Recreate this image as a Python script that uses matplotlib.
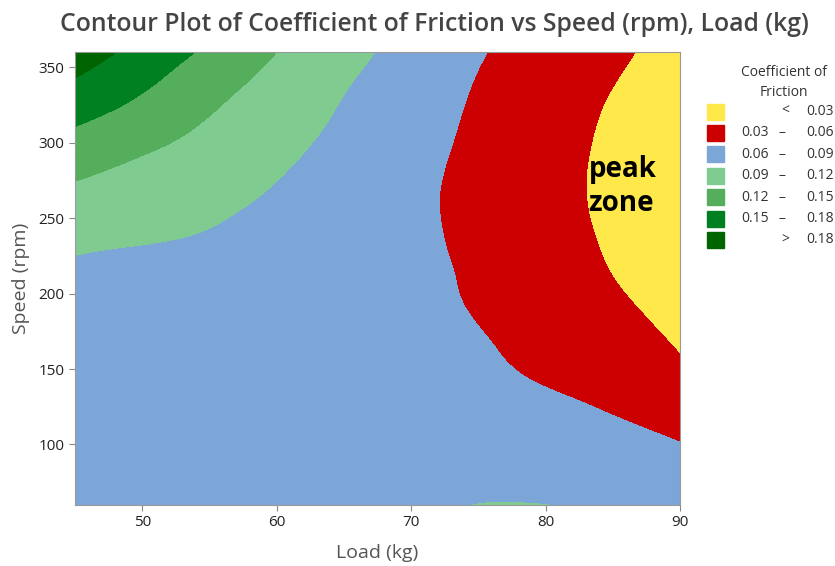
import numpy as np
import matplotlib
matplotlib.use("Agg")
from matplotlib import pyplot as plt
from matplotlib import tri
from matplotlib.patches import Rectangle

plt.rcParams["font.family"] = ["Open Sans", "DejaVu Sans"]

# grid: coefficient of friction at each load / speed
load = [45, 50, 55, 60, 65, 70, 75, 80, 85, 90]
speed = [60, 90, 120, 150, 180, 210, 240, 270, 300, 330, 360]
friction = [
    [0.082, 0.083, 0.084, 0.085, 0.086, 0.0874, 0.0902, 0.0901, 0.0855, 0.076],   # 60
    [0.081, 0.0805, 0.080, 0.0795, 0.079, 0.0785, 0.078, 0.076, 0.072, 0.065],    # 90
    [0.080, 0.0775, 0.075, 0.0725, 0.070, 0.0673, 0.0655, 0.066, 0.0597, 0.050],  # 120
    [0.080, 0.077, 0.074, 0.0709, 0.0679, 0.0652, 0.0632, 0.0558, 0.0454, 0.0335],  # 150
    [0.082, 0.078, 0.0746, 0.0708, 0.067, 0.0642, 0.0598, 0.0475, 0.0363, 0.0251],  # 180
    [0.085, 0.0805, 0.076, 0.0716, 0.067, 0.064, 0.0565, 0.0425, 0.0302, 0.018],    # 210
    [0.0975, 0.094, 0.0887, 0.0804, 0.0721, 0.0643, 0.054, 0.0397, 0.0266, 0.014],   # 240
    [0.117, 0.1077, 0.0984, 0.0888, 0.0771, 0.0654, 0.0525, 0.0386, 0.0247, 0.013],  # 270
    [0.1405, 0.126, 0.1119, 0.0977, 0.0834, 0.069, 0.0545, 0.040, 0.0258, 0.015],    # 300
    [0.168, 0.148, 0.126, 0.1075, 0.0896, 0.0734, 0.0574, 0.0431, 0.0289, 0.018],    # 330
    [0.196, 0.170, 0.1446, 0.120, 0.0989, 0.0798, 0.0621, 0.048, 0.0346, 0.021],     # 360
]

levels = [0.03, 0.06, 0.09, 0.12, 0.15, 0.18]
colors = ["#FFE84A", "#CC0000", "#7BA6D7", "#80CC90", "#54AE5C", "#008020", "#006400"]
lows = [None, "0.03", "0.06", "0.09", "0.12", "0.15", None]
highs = ["0.03", "0.06", "0.09", "0.12", "0.15", "0.18", "0.18"]

fig = plt.figure(figsize=(8.35, 5.66), dpi=100)
ax = fig.add_axes([0.0898, 0.108, 0.7245, 0.8])

# smooth the coarse grid with matplotlib's triangulation refiner,
# worked out on evenly scaled axes and then mapped back to load / speed
X, Y = np.meshgrid(load, speed)
z = np.array(friction).ravel()
tn = tri.Triangulation(X.ravel(), Y.ravel() / 6.0)
interp = tri.CubicTriInterpolator(tn, z, kind="min_E")
fine, fine_z = tri.UniformTriRefiner(tn).refine_field(z, triinterpolator=interp, subdiv=3)
fine_real = tri.Triangulation(fine.x, fine.y * 6.0, fine.triangles)
ax.tricontourf(fine_real, fine_z, levels=[-1] + levels + [1], colors=colors)

ax.set_xlim(45, 90)
ax.set_ylim(60, 360)
ax.set_xticks([50, 60, 70, 80, 90])
ax.set_yticks([100, 150, 200, 250, 300, 350])
ax.tick_params(labelsize=11, colors="#888888", labelcolor="#222222", length=4)
for s in ax.spines.values():
    s.set_color("#999999")

ax.set_xlabel("Load (kg)", fontsize=14, color="#555555", labelpad=10)
ax.set_ylabel("Speed (rpm)", fontsize=14, color="#555555", labelpad=6)
fig.suptitle("Contour Plot of Coefficient of Friction vs Speed (rpm), Load (kg)",
             x=0.52, y=0.978, fontsize=17.8, fontweight="semibold", color="#444444")

ax.text(83.2, 271, "peak\nzone", fontsize=20, fontweight="bold", color="black",
        ha="left", va="center", linespacing=1.2)

# legend drawn by hand, in pixel-like coordinates
lg = fig.add_axes([0, 0, 1, 1], facecolor="none")
lg.set_xlim(0, 835)
lg.set_ylim(566, 0)
lg.axis("off")
lg.text(784, 72, "Coefficient of", fontsize=10, color="#333333", ha="center", va="center")
lg.text(784, 93, "Friction", fontsize=10, color="#333333", ha="center", va="center")
for i, c in enumerate(colors):
    y = 111.5 + i * 21.4
    lg.add_patch(Rectangle((707, y - 8), 17, 16, color=c))
    if lows[i] is None:
        lg.text(785, y, "<" if i == 0 else ">", fontsize=10, color="#333333",
                ha="center", va="center")
    else:
        lg.text(769, y, lows[i], fontsize=10, color="#333333", ha="right", va="center")
        lg.text(782, y, "–", fontsize=10, color="#333333", ha="center", va="center")
    lg.text(834, y, highs[i], fontsize=10, color="#333333", ha="right", va="center")

fig.savefig("out.png", dpi=100)
